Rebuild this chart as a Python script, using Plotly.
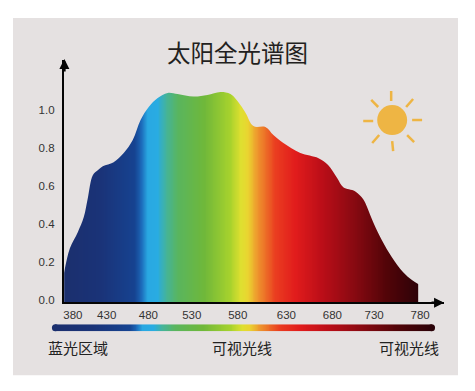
import plotly.graph_objects as go

# Spectrum outline
wavelength = [369.7, 376.6, 385.7, 392.6, 397.2, 403, 408.7, 414.5, 427, 438.6, 449, 458, 467.4, 477.7,
              489.2, 500.7, 519, 535, 550, 561.6, 573, 579, 588, 601.8, 611, 622.5, 642, 663, 674,
              684.6, 691.5, 705, 714.5, 719, 726, 736, 747.5, 760.5, 771, 780]
intensity = [0.14, 0.273, 0.357, 0.436, 0.535, 0.656, 0.682, 0.703, 0.724, 0.772, 0.84, 0.945, 1.013, 1.06,
             1.087, 1.081, 1.068, 1.076, 1.092, 1.081, 1.024, 0.982, 0.913, 0.908, 0.866, 0.824, 0.772, 0.745, 0.709,
             0.64, 0.593, 0.572, 0.53, 0.488, 0.409, 0.315, 0.226, 0.147, 0.105, 0.079]

# Tick labels and where they stand on the wavelength scale
x_tick_pos = [380, 419, 467, 517, 570, 626, 679, 727, 780]
x_tick_text = ["380", "430", "480", "530", "580", "630", "680", "730", "780"]
y_tick_vals = [0, 0.2, 0.4, 0.6, 0.8, 1.0]

# Colour stops of the spectrum gradient
stop_nm = [370, 410, 450, 458, 464, 476, 486, 500, 530, 560, 572, 580, 590, 612, 635, 665, 700, 740, 780]
stop_col = ["#1b2f6e", "#1a3378", "#164391", "#1d6cbc", "#29a8e2", "#29ace2", "#45b49a", "#5ab55e", "#70b83a",
            "#a8d32d", "#dfe030", "#ead530", "#ee9c2e", "#ea3d20", "#e11c1c", "#bc0e18", "#8c0a12", "#520408", "#2a0208"]

PANEL = "#e5e1e1"
PAGE_MARGIN = 8  # the page body puts this much round the figure
W, H = 475 - 2 * PAGE_MARGIN, 391 - 2 * PAGE_MARGIN
STRETCH = 1.012
lo, hi = stop_nm[0], stop_nm[-1]
colorscale = [[(n - lo) / (hi - lo), c] for n, c in zip(stop_nm, stop_col)]
grad_nm = list(range(370, 779, 2))

X0, X1 = 369.66, 807.6
Y0, Y1 = -0.0105, 1.26


def px(x):
    return (x - PAGE_MARGIN) / W


def py(y):
    return 1 - (18 + (y - 18) * STRETCH - PAGE_MARGIN) / H


fig = go.Figure()
fig.add_trace(go.Heatmap(x=grad_nm, y=[Y0, 0.6, 1.2], z=[grad_nm[:-1], grad_nm[:-1]], colorscale=colorscale, zmin=lo, zmax=hi,
                         showscale=False, zsmooth="best", hoverinfo="skip"))
fig.add_trace(go.Scatter(x=wavelength, y=[4] * len(wavelength), mode="lines", line=dict(width=0),
                         hoverinfo="skip", showlegend=False))
fig.add_trace(go.Scatter(x=wavelength, y=intensity, mode="lines", line=dict(width=0, shape="spline", smoothing=1.0),
                         fill="tonexty", fillcolor=PANEL, hoverinfo="skip", showlegend=False))
fig.add_trace(go.Heatmap(x=grad_nm, y=[0, 1], z=[grad_nm, grad_nm], colorscale=colorscale, zmin=lo, zmax=hi,
                         showscale=False, zsmooth="best", hoverinfo="skip", xaxis="x2", yaxis="y2"))

tick_font = dict(family="Liberation Sans, Arial, sans-serif", size=11.5, color="#333333")
fig.update_layout(
    width=W, height=H, margin=dict(l=0, r=0, t=0, b=0), paper_bgcolor="white", plot_bgcolor="rgba(0,0,0,0)",
    showlegend=False, hovermode=False,
    xaxis=dict(domain=[px(63), px(444)], range=[X0, X1], tickvals=x_tick_pos, ticktext=x_tick_text, showgrid=False,
               zeroline=False, showline=True, linecolor="#050505", linewidth=2, ticks="outside",
               ticklen=1, tickcolor="rgba(0,0,0,0)", tickfont=tick_font, tickangle=0),
    yaxis=dict(domain=[py(302), py(60)], range=[Y0, Y1], tickvals=y_tick_vals, tickformat=".1f",
               showgrid=False, zeroline=False, showline=True, linecolor="#050505", linewidth=2, ticks="outside",
               ticklen=5, tickcolor="rgba(0,0,0,0)", tickfont=tick_font),
    xaxis2=dict(domain=[px(54), px(432)], range=[370, 778], visible=False, anchor="y2"),
    yaxis2=dict(domain=[py(331), py(324)], range=[0, 1], visible=False, anchor="x2"),
)

shapes = [dict(type="rect", xref="paper", yref="paper", x0=px(12), x1=px(458), y0=py(375), y1=py(18),
               fillcolor=PANEL, line_width=0, layer="below")]
# rounded ends of the strip
for cx, col in ((54.5, stop_col[0]), (431.5, stop_col[-1])):
    shapes.append(dict(type="circle", xref="paper", yref="paper", x0=px(cx - 3.5), x1=px(cx + 3.5),
                       y0=py(331), y1=py(324), fillcolor=col, line_width=0, layer="below"))
# sun
SUN = "#eeb544"
shapes.append(dict(type="circle", xref="paper", yref="paper", x0=px(377), x1=px(407), y0=py(135), y1=py(105),
                   fillcolor=SUN, line_width=0))
for a, b, c, d in [(391, 91, 391, 101), (392, 141, 393, 151), (363, 121, 373, 121), (412, 120, 422, 120),
                   (406, 107, 413, 99), (371, 100, 378, 107), (372, 143, 379, 135), (407, 135, 414, 142)]:
    shapes.append(dict(type="line", xref="paper", yref="paper", x0=px(a), y0=py(b), x1=px(c), y1=py(d),
                       line=dict(color=SUN, width=2.5)))
fig.update_layout(shapes=shapes)

cjk = "Noto Sans CJK SC"
notes = [
    dict(text="太阳全光谱图", x=237, y=52, size=23.5, col="#231f20"),
    dict(text="蓝光区域", x=77, y=347, size=15, col="#222222"),
    dict(text="可视光线", x=242, y=347, size=15, col="#222222"),
    dict(text="可视光线", x=409, y=347, size=15, col="#222222"),
]
anns = [dict(text=n["text"], xref="paper", yref="paper", x=px(n["x"]), y=py(n["y"]), xanchor="center", yanchor="middle",
             showarrow=False, font=dict(family=cjk, size=n["size"], color=n["col"])) for n in notes]
# axis arrowheads
anns.append(dict(xref="paper", yref="paper", axref="pixel", ayref="pixel", x=px(63.5), y=py(59), ax=0, ay=14, text="",
                 showarrow=True, arrowhead=2, arrowsize=0.8, arrowwidth=2.5, arrowcolor="#050505"))
anns.append(dict(xref="paper", yref="paper", axref="pixel", ayref="pixel", x=px(444), y=py(302.5), ax=-14, ay=0, text="",
                 showarrow=True, arrowhead=2, arrowsize=0.8, arrowwidth=2.5, arrowcolor="#050505"))
fig.update_layout(annotations=anns)

fig.write_html("out.html")
